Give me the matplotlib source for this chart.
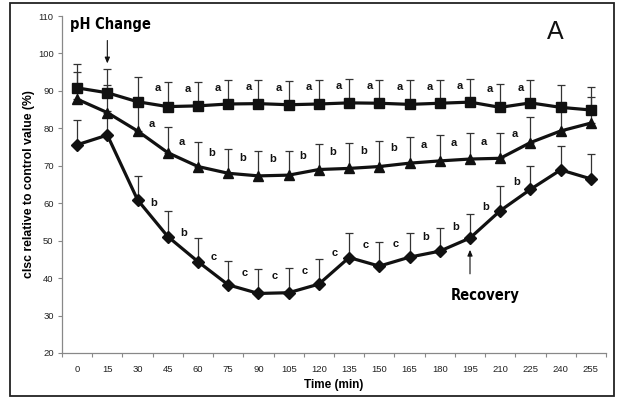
import numpy as np
import matplotlib
matplotlib.use("Agg")
import matplotlib.pyplot as plt
from matplotlib.patches import Rectangle

plt.rcParams['font.family'] = ['Liberation Sans', 'DejaVu Sans']

# ---------------- data ----------------
time_min = [0, 15, 30, 45, 60, 75, 90, 105, 120, 135, 150, 165, 180, 195, 210, 225, 240, 255]

square_mean = [90.8, 89.5, 87.1, 85.8, 86.0, 86.5, 86.6, 86.3, 86.5, 86.8, 86.7, 86.4, 86.7, 87.0, 85.6, 86.8, 85.6, 84.9]
square_err = [6.3, 6.3, 6.5, 6.5, 6.3, 6.4, 6.4, 6.4, 6.3, 6.3, 6.3, 6.4, 6.2, 6.3, 6.2, 6.1, 6.1, 6.2]

triangle_mean = [87.8, 84.2, 79.3, 73.5, 69.8, 68.0, 67.3, 67.5, 69.0, 69.3, 69.8, 70.7, 71.3, 71.8, 72.0, 76.2, 79.3, 81.4]
triangle_err = [7.2, 7.4, 7.2, 6.9, 6.6, 6.5, 6.6, 6.5, 6.8, 6.7, 6.9, 6.9, 6.8, 7.0, 6.8, 6.7, 7.2, 7.1]

diamond_mean = [75.6, 78.2, 60.9, 51.1, 44.4, 38.2, 35.9, 36.1, 38.4, 45.5, 43.2, 45.6, 47.2, 50.7, 58.0, 63.7, 68.9, 66.5]
diamond_err = [6.5, 6.3, 6.5, 6.8, 6.4, 6.5, 6.5, 6.5, 6.6, 6.5, 6.5, 6.4, 6.3, 6.4, 6.6, 6.3, 6.4, 6.6]

square_letters = ['', '', '', 'a', 'a', 'a', 'a', 'a', 'a', 'a', 'a', 'a', 'a', 'a', 'a', 'a', '', '']
triangle_letters = ['', '', '', 'a', 'a', 'b', 'b', 'b', 'b', 'b', 'b', 'b', 'a', 'a', 'a', 'a', '', '']
diamond_letters = ['', '', '', 'b', 'b', 'c', 'c', 'c', 'c', 'c', 'c', 'c', 'b', 'b', 'b', 'b', '', '']

y_ticks = [20, 30, 40, 50, 60, 70, 80, 90, 100, 110]

# ---------------- figure ----------------
W, H = 617, 397
fig = plt.figure(figsize=(W / 100, H / 100), dpi=100)
ax = fig.add_axes([62 / W, 1 - 353 / H, (606 - 62) / W, (353 - 16) / H])

t = np.array(time_min, dtype=float)
line_color = '#111111'
err_color = '#333333'

series = [
    (square_mean, square_err, 's', 7.2, square_letters, 5.0),
    (triangle_mean, triangle_err, '^', 7.5, triangle_letters, 8.0),
    (diamond_mean, diamond_err, 'D', 6.0, diamond_letters, 7.0),
]

for mean, err, mk, ms, letters, off in series:
    mean = np.array(mean)
    err = np.array(err)
    ax.errorbar(t, mean, yerr=[np.zeros_like(err), err], fmt='none',
                ecolor=err_color, elinewidth=0.9, capsize=2.6, capthick=0.9, zorder=2)
    ax.plot(t, mean, color=line_color, lw=2.3, marker=mk, ms=ms,
            markerfacecolor=line_color, markeredgecolor=line_color, zorder=3)
    for ti, lab in zip(t, letters):
        if lab:
            xl = ti - off
            yl = np.interp(xl, t, mean) + 4.5
            ax.text(xl, yl, lab, ha='center', va='center', fontsize=8,
                    fontweight='bold', color='#111111', zorder=4)

ax.set_xlim(-7.5, 262.5)
ax.set_ylim(20, 110)

ax.set_xticks(t)
ax.set_xticklabels([str(v) for v in time_min])
ax.set_xticks(np.arange(-7.5, 263, 15), minor=True)
ax.tick_params(axis='x', which='major', length=0, pad=9, labelsize=6.8, colors='#222222')
ax.tick_params(axis='x', which='minor', length=3, direction='out', color='#888888', width=0.8)
ax.set_yticks(y_ticks)
ax.tick_params(axis='y', length=3, direction='out', color='#888888', width=0.8,
               labelsize=6.8, labelcolor='#222222', pad=3)

for s in ['top', 'right']:
    ax.spines[s].set_visible(False)
for s in ['left', 'bottom']:
    ax.spines[s].set_color('#888888')
    ax.spines[s].set_linewidth(0.9)

ax.set_xlabel('Time (min)', fontsize=8.5, fontweight='bold', labelpad=3)
ax.set_ylabel('clsc relative to control value (%)', fontsize=8.8, fontweight='bold', labelpad=2)

# annotations
ax.text(16.4, 107.6, 'pH Change', ha='center', va='center', fontsize=10.5,
        fontweight='heavy', family='DejaVu Sans', fontstretch='condensed')
ax.annotate('', xy=(15, 96.6), xytext=(15, 104.2),
            arrowprops=dict(arrowstyle='-|>,head_length=0.35,head_width=0.15', color='#111111', lw=0.8))
ax.text(202.6, 35.4, 'Recovery', ha='center', va='center', fontsize=10.5,
        fontweight='heavy', family='DejaVu Sans', fontstretch='condensed')
ax.annotate('', xy=(195, 48.3), xytext=(195, 40.4),
            arrowprops=dict(arrowstyle='-|>,head_length=0.35,head_width=0.15', color='#111111', lw=0.8))
ax.text(237.4, 105.6, 'A', ha='center', va='center', fontsize=18, color='#111111')

# outer frame
fig.patches.append(Rectangle((10 / W, 1 / H), (614 - 10) / W, (394.5 - 1) / H,
                             transform=fig.transFigure, fill=False,
                             edgecolor='#222222', lw=1.3))

fig.savefig('out.png', dpi=100)
